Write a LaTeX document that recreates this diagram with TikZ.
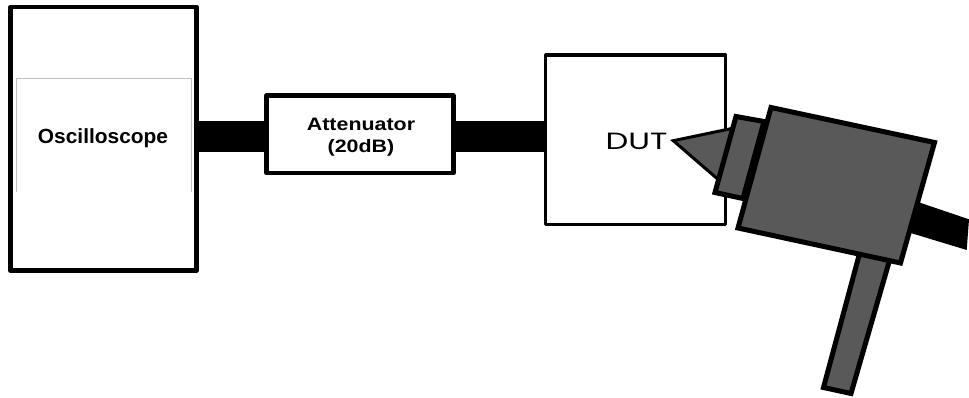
\documentclass[tikz,border=0pt]{standalone}
\usepackage{fontspec}
\setmainfont{Liberation Sans}
\newfontfamily\dutfont{Poppins}
\definecolor{gunfill}{RGB}{89,89,89}
\tikzset{
  boxheavy/.style={draw=black,line width=4.5pt,fill=white,line join=round},
  boxmid/.style={draw=black,line width=3.3pt,fill=white,line join=round},
  gunpart/.style={draw=black,line width=5pt,fill=gunfill,line join=miter},
  conepart/.style={draw=black,line width=3pt,fill=gunfill,line join=miter},
  cable/.style={fill=black,draw=none},
  lbl/.style={inner sep=0pt,align=center}
}
\begin{document}
\begin{tikzpicture}[x=1pt,y=-1pt]
\useasboundingbox (0,0) rectangle (969,398);
% cables
\coordinate (c1a) at (197,121); \coordinate (c1b) at (267,152);
\coordinate (c2a) at (453,121); \coordinate (c2b) at (547,152);
\fill[cable] (c1a) rectangle (c1b);
\fill[cable] (c2a) rectangle (c2b);
\fill[cable] (900,196) -- (921.7,203.3) -- (969,219.3) -- (966.7,250) -- (911.7,233.3) -- (890,226.5) -- cycle;
% boxes
\draw[boxheavy] (10.5,7) rectangle (196.5,270.5);
\draw[draw=black!25,line width=0.8pt] (16.5,192) -- (16.5,78.5) -- (191.5,78.5) -- (191.5,192);
\node[lbl,anchor=base,xscale=1.02,font=\bfseries\fontsize{20.5}{23}\selectfont] (osc) at (103,144) {Oscilloscope};
\draw[boxmid,line width=4.5pt] (266.7,95.5) rectangle (453.3,173);
\node[lbl,xscale=1.19,font=\bfseries\fontsize{18}{22}\selectfont] (att) at (361,137) {Attenuator\\(20dB)};
\draw[boxmid] (545.8,55) rectangle (725.8,224.3);
\node[inner sep=0pt,anchor=base,xscale=1.37,font=\dutfont\fontsize{23.5}{28}\selectfont] (dut) at (636.5,149.3) {DUT};
% probe
\draw[conepart] (738,127.2) -- (673.3,140.7) -- (725,185.4) -- cycle;
\draw[gunpart] (764,121.5) -- (736,116.5) -- (715,192.5) -- (743,198.5) -- cycle;
\draw[gunpart] (860.5,250) -- (890.5,257) -- (851,393.5) -- (823.5,387.5) -- cycle;
\draw[gunpart] (771,107.5) -- (934.5,142.5) -- (900.5,263) -- (738,228) -- cycle;
\end{tikzpicture}
\end{document}
